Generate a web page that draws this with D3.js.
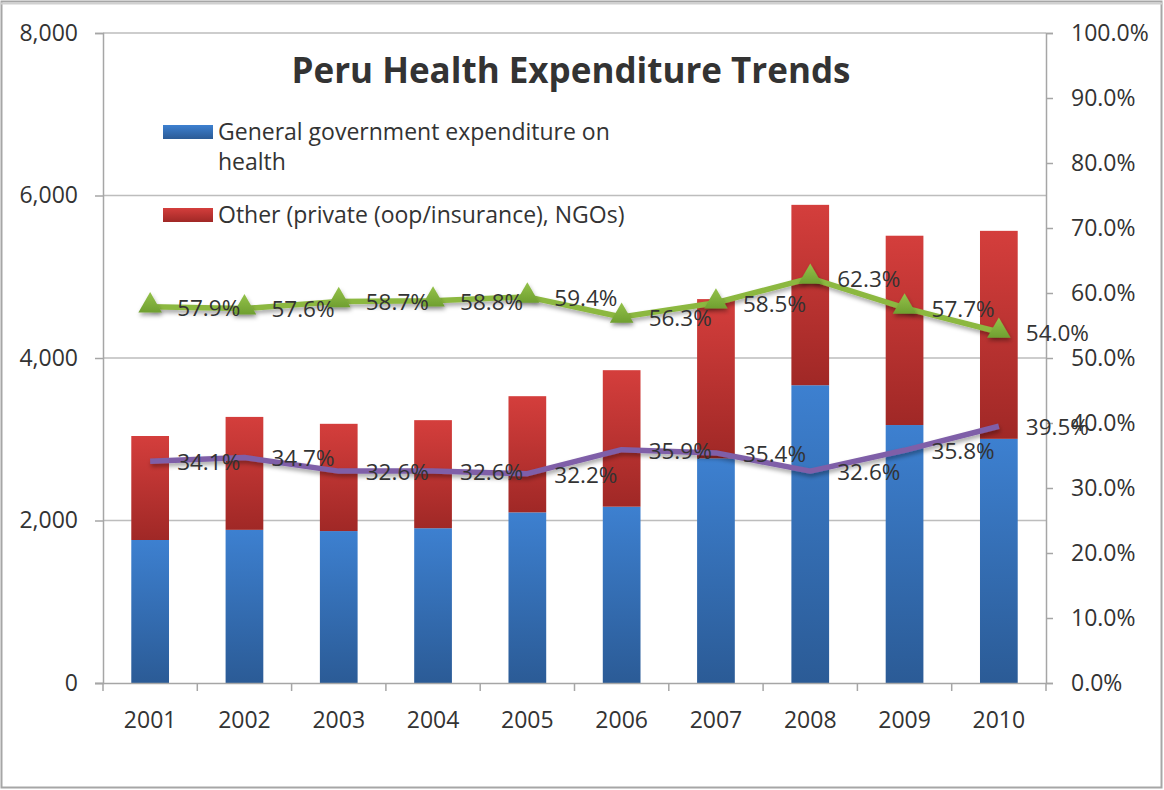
<!DOCTYPE html>
<html>
<head>
<meta charset="utf-8">
<script src="https://cdn.jsdelivr.net/npm/d3@7"></script>
<style>
  html, body { margin: 0; padding: 0; background: #fff; }
  svg { display: block; }
  text { font-family: "Open Sans", Lato, sans-serif; fill: #333; }
</style>
</head>
<body>
<svg id="chart" width="1164" height="790"></svg>
<script>
// ---- data ----
const years = ["2001","2002","2003","2004","2005","2006","2007","2008","2009","2010"];
const govExpenditure = [1760, 1885, 1870, 1905, 2100, 2170, 2765, 3665, 3175, 3005];
const otherExpenditure = [1280, 1390, 1320, 1330, 1430, 1680, 1960, 2220, 2330, 2560];
const govSharePct = [57.9, 57.6, 58.7, 58.8, 59.4, 56.3, 58.5, 62.3, 57.7, 54.0];
const purplePct = [34.1, 34.7, 32.6, 32.6, 32.2, 35.9, 35.4, 32.6, 35.8, 39.5];
const leftTicks = [0, 2000, 4000, 6000, 8000];
const rightTicks = [0, 10, 20, 30, 40, 50, 60, 70, 80, 90, 100];
const titleText = "Peru Health Expenditure Trends";
const legendLabels = [["General government expenditure on", "health"], ["Other (private (oop/insurance), NGOs)"]];

// ---- layout ----
const FONT = "'Open Sans', Lato, sans-serif";
const svg = d3.select("#chart");
const L = 103, R = 1046, T = 33, B = 683;

const defs = svg.append("defs");
function grad(id, c1, c2) {
  const g = defs.append("linearGradient").attr("id", id).attr("x1", 0).attr("y1", 0).attr("x2", 0).attr("y2", 1);
  g.append("stop").attr("offset", "0%").attr("stop-color", c1);
  g.append("stop").attr("offset", "100%").attr("stop-color", c2);
}
grad("gBlue", "#3d80d0", "#2b5b96");
grad("gRed", "#d43e3c", "#a02826");
grad("gTri", "#94c24a", "#6f9f30");
const sh = defs.append("filter").attr("id", "shadow").attr("x", "-50%").attr("y", "-50%").attr("width", "200%").attr("height", "200%");
sh.append("feDropShadow").attr("dx", 1).attr("dy", 3).attr("stdDeviation", 2).attr("flood-color", "#000").attr("flood-opacity", 0.35);

// outer chart border
svg.append("rect").attr("x", 1.5).attr("y", 1.5).attr("width", 1160).attr("height", 786)
  .attr("fill", "#fff").attr("stroke", "#a6a6a6").attr("stroke-width", 2);
svg.append("line").attr("x1", 1).attr("x2", 1163).attr("y1", 3.5).attr("y2", 3.5).attr("stroke", "#d0d0d0").attr("stroke-width", 2);

const x = d3.scaleBand().domain(years).range([L, R]).paddingInner(0.6).paddingOuter(0.3);
const xc = d => x(d) + x.bandwidth() / 2;
const yL = d3.scaleLinear().domain([0, 8000]).range([B, T]);
const yR = d3.scaleLinear().domain([0, 100]).range([B, T]);

// gridlines
svg.append("g").selectAll("line").data(leftTicks.filter(d => d > 0)).join("line")
  .attr("x1", L).attr("x2", R).attr("y1", d => yL(d)).attr("y2", d => yL(d))
  .attr("stroke", "#bdbdbd").attr("stroke-width", 1.5);

// bars
const stackData = years.map((y, i) => ({ year: y, gov: govExpenditure[i], other: otherExpenditure[i] }));
const stack = d3.stack().keys(["gov", "other"])(stackData);
const fills = { gov: "url(#gBlue)", other: "url(#gRed)" };
svg.append("g").selectAll("g").data(stack).join("g")
  .attr("fill", d => fills[d.key])
  .selectAll("rect").data(d => d).join("rect")
  .attr("x", d => x(d.data.year)).attr("width", x.bandwidth())
  .attr("y", d => yL(d[1])).attr("height", d => yL(d[0]) - yL(d[1]));

// axes
const axisColor = "#a6a6a6";
const gL = svg.append("g").attr("transform", `translate(${L},0)`)
  .call(d3.axisLeft(yL).tickValues(leftTicks).tickFormat(d3.format(",")).tickSize(8).tickPadding(17));
const gR = svg.append("g").attr("transform", `translate(${R},0)`)
  .call(d3.axisRight(yR).tickValues(rightTicks).tickFormat(d => d.toFixed(1) + "%").tickSize(7).tickPadding(18));
const gX = svg.append("g").attr("transform", `translate(0,${B})`)
  .call(d3.axisBottom(x).tickSize(0).tickPadding(29));
[gL, gR, gX].forEach(g => {
  g.select(".domain").attr("stroke", axisColor).attr("stroke-width", 1.5);
  g.selectAll(".tick line").attr("stroke", axisColor).attr("stroke-width", 1.5);
  g.selectAll("text").attr("font-size", 23).attr("fill", "#3a3a3a").style("font-family", FONT);
});
// category boundary ticks on x axis
const bounds = d3.range(years.length + 1).map(i => L + (R - L) * i / years.length);
svg.append("g").selectAll("line").data(bounds).join("line")
  .attr("x1", d => d).attr("x2", d => d).attr("y1", B).attr("y2", B + 8)
  .attr("stroke", axisColor).attr("stroke-width", 1.5);
gX.select(".domain").attr("d", `M${L - 8},0.5H${R}`);

// lines
function drawSeries(vals, color, markerType) {
  const pts = years.map((y, i) => [xc(y), yR(vals[i])]);
  svg.append("path").attr("d", d3.line()(pts)).attr("fill", "none")
    .attr("stroke", color).attr("stroke-width", 5.5).attr("stroke-linejoin", "round")
    .attr("filter", "url(#shadow)");
  const m = svg.append("g");
  if (markerType === "triangle") {
    m.selectAll("path").data(pts).join("path")
      .attr("d", d3.symbol(d3.symbolTriangle, 240)())
      .attr("transform", d => `translate(${d[0]},${d[1] - 1})`)
      .attr("fill", "url(#gTri)").attr("filter", "url(#shadow)");
  } else {
    m.selectAll("path").data(pts).join("path")
      .attr("d", d3.symbol(d3.symbolTimes, 220)())
      .attr("transform", d => `translate(${d[0]},${d[1]})`)
      .attr("fill", "#8a6cb4").attr("opacity", 0.9);
  }
  svg.append("g").selectAll("text").data(pts).join("text")
    .attr("x", d => d[0] + 27).attr("y", d => d[1] + 1).attr("dy", "0.35em")
    .attr("font-size", 22.5).attr("fill", "#333")
    .text((d, i) => vals[i].toFixed(1) + "%");
}
drawSeries(govSharePct, "#8cb840", "triangle");
drawSeries(purplePct, "#7f5fa8", "times");

// title
svg.append("text").attr("x", 571).attr("y", 71).attr("dy", "0.35em").attr("text-anchor", "middle")
  .attr("font-size", 35).attr("font-weight", "bold").attr("fill", "#000").text(titleText);

// legend
const legColors = ["url(#gBlue)", "url(#gRed)"];
const legY = [132, 215];
legendLabels.forEach((lines, i) => {
  svg.append("rect").attr("x", 163).attr("y", legY[i] - 7).attr("width", 50).attr("height", 14).attr("fill", legColors[i]);
  lines.forEach((ln, j) => {
    svg.append("text").attr("x", 218).attr("y", legY[i] + j * 30).attr("dy", "0.35em")
      .attr("font-size", 23).attr("fill", "#404040").text(ln);
  });
});
</script>
</body>
</html>
